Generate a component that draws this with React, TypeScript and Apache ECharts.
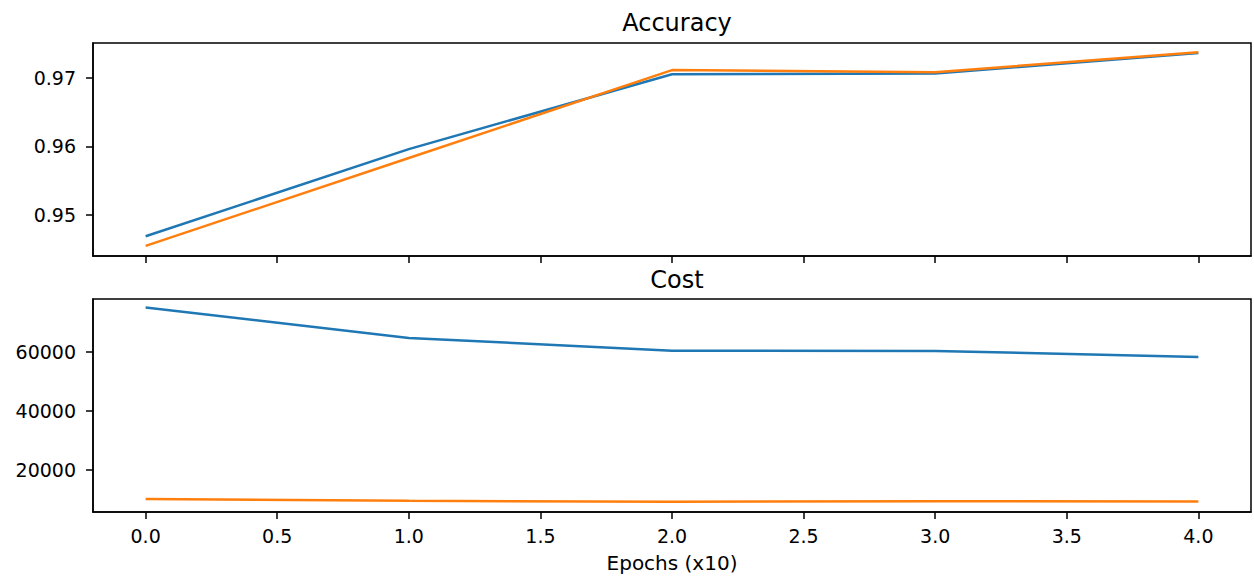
import React, { useEffect, useRef } from "react";
import * as echarts from "echarts";

const epochs = [0, 1, 2, 3, 4];
const accTrain = [0.9469, 0.9596, 0.9705, 0.9706, 0.9736];
const accTest = [0.9455, 0.9583, 0.9711, 0.9708, 0.9737];
const costTrain = [75200, 64800, 60500, 60400, 58300];
const costTest = [10000, 9400, 9100, 9300, 9200];

const xTicks = [0, 0.5, 1, 1.5, 2, 2.5, 3, 3.5, 4];
const accTicks = [0.95, 0.96, 0.97];
const costTicks = [20000, 40000, 60000];

const xRange = [-0.2, 4.2];
const accRange = [0.94403, 0.97505];
const costRange = [5612, 78060];

const BLUE = "#1f77b4";
const ORANGE = "#ff7f0e";
const FONT = "DejaVu Sans";

export default function App() {
  const ref = useRef<HTMLDivElement>(null);
  useEffect(() => {
    if (!ref.current) return;
    const chart = echarts.init(ref.current, null, { renderer: "svg" });
    const pair = (xs: number[], ys: number[]) => xs.map((x, i) => [x, ys[i]]);
    const axisLine = { show: true, onZero: false, lineStyle: { color: "#000", width: 1.5 } };
    const axisTick = (vals: number[]) => ({
      show: true,
      inside: false,
      length: 7,
      customValues: vals,
      lineStyle: { color: "#000", width: 1.5 },
    });
    const xAxisBase = (gridIndex: number, showLabels: boolean) => ({
      type: "value",
      gridIndex,
      min: xRange[0],
      max: xRange[1],
      axisLine,
      axisTick: axisTick(xTicks),
      splitLine: { show: false },
      axisLabel: {
        show: showLabels,
        customValues: xTicks,
        formatter: (v: number) => v.toFixed(1),
        fontFamily: FONT,
        fontSize: 19,
        color: "#000",
        margin: 14,
      },
    });
    const yAxisBase = (gridIndex: number, range: number[], ticks: number[], fmt: (v: number) => string) => ({
      type: "value",
      gridIndex,
      min: range[0],
      max: range[1],
      axisLine,
      axisTick: axisTick(ticks),
      splitLine: { show: false },
      axisLabel: {
        customValues: ticks,
        formatter: fmt,
        fontFamily: FONT,
        fontSize: 19,
        color: "#000",
        margin: 17,
      },
    });
    const line = (name: string, data: number[][], color: string, idx: number) => ({
      type: "line",
      name,
      data,
      xAxisIndex: idx,
      yAxisIndex: idx,
      showSymbol: false,
      symbol: "none",
      lineStyle: { color, width: 2.5 },
      itemStyle: { color },
    });
    chart.setOption({
      animation: false,
      backgroundColor: "#fff",
      title: [
        {
          text: "Accuracy",
          left: 672,
          top: 6,
          textAlign: "center",
          textStyle: { fontFamily: FONT, fontSize: 24, fontWeight: "normal", color: "#000" },
        },
        {
          text: "Cost",
          left: 672,
          top: 263,
          textAlign: "center",
          textStyle: { fontFamily: FONT, fontSize: 24, fontWeight: "normal", color: "#000" },
        },
      ],
      grid: [
        { left: 93, right: 3, top: 43, height: 213, show: true, borderColor: "#000", borderWidth: 1.5, containLabel: false },
        { left: 93, right: 3, top: 299, height: 213, show: true, borderColor: "#000", borderWidth: 1.5, containLabel: false },
      ],
      xAxis: [
        xAxisBase(0, false),
        {
          ...xAxisBase(1, true),
          name: "Epochs (x10)",
          nameLocation: "middle",
          nameGap: 41,
          nameTextStyle: { fontFamily: FONT, fontSize: 20, color: "#000" },
        },
      ],
      yAxis: [
        yAxisBase(0, accRange, accTicks, (v: number) => v.toFixed(2)),
        yAxisBase(1, costRange, costTicks, (v: number) => String(Math.round(v))),
      ],
      series: [
        line("acc_train", pair(epochs, accTrain), BLUE, 0),
        line("acc_test", pair(epochs, accTest), ORANGE, 0),
        line("cost_train", pair(epochs, costTrain), BLUE, 1),
        line("cost_test", pair(epochs, costTest), ORANGE, 1),
      ],
    });
    return () => chart.dispose();
  }, []);
  return (
    <div
      ref={ref}
      style={{ position: "absolute", left: 0, top: 0, width: 1254, height: 578 }}
    />
  );
}
